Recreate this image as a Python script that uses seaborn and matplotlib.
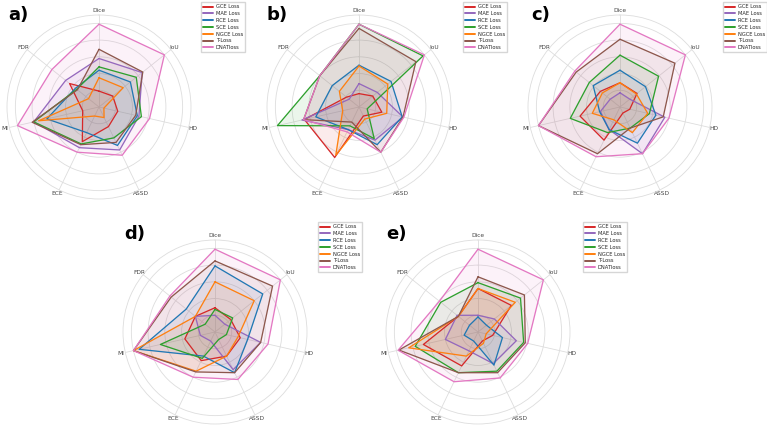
import numpy as np
import matplotlib
matplotlib.use("Agg")
import matplotlib.pyplot as plt
from matplotlib.lines import Line2D
import seaborn as sns

metrics = ["Dice", "IoU", "HD", "ASSD", "ECE", "MI", "FDR"]
losses = ["GCE Loss", "MAE Loss", "RCE Loss", "SCE Loss", "NGCE Loss", "T-Loss", "DNATloss"]

# normalized scores per loss (order of metrics above)
panel_a = [
    [0.19, 0.21, 0.23, 0.26, 0.46, 0.20, 0.45],
    [0.58, 0.66, 0.49, 0.57, 0.54, 0.80, 0.51],
    [0.44, 0.48, 0.47, 0.51, 0.34, 0.64, 0.36],
    [0.48, 0.57, 0.52, 0.41, 0.49, 0.80, 0.34],
    [0.35, 0.37, 0.06, 0.14, 0.12, 0.74, 0.16],
    [0.69, 0.67, 0.45, 0.47, 0.50, 0.82, 0.33],
    [0.99, 1.00, 0.62, 0.64, 0.60, 1.00, 0.72],
]
panel_b = [
    [0.16, 0.21, 0.28, 0.12, 0.67, 0.67, 0.19],
    [0.28, 0.28, 0.54, 0.44, 0.30, 0.70, 0.15],
    [0.50, 0.49, 0.53, 0.50, 0.30, 0.53, 0.41],
    [0.99, 0.98, 0.10, 0.42, 0.25, 1.00, 0.60],
    [0.49, 0.44, 0.34, 0.16, 0.64, 0.20, 0.30],
    [0.94, 0.87, 0.54, 0.60, 0.20, 0.68, 0.60],
    [0.99, 1.00, 0.55, 0.60, 0.33, 0.68, 0.60],
]
panel_c = [
    [0.29, 0.26, 0.12, 0.08, 0.44, 0.49, 0.30],
    [0.17, 0.15, 0.55, 0.62, 0.30, 0.24, 0.15],
    [0.44, 0.39, 0.44, 0.48, 0.30, 0.25, 0.41],
    [0.62, 0.59, 0.36, 0.28, 0.34, 0.61, 0.47],
    [0.29, 0.25, 0.34, 0.34, 0.17, 0.34, 0.27],
    [0.81, 0.84, 0.53, 0.28, 0.62, 1.00, 0.67],
    [0.99, 1.00, 0.60, 0.62, 0.66, 1.00, 0.69],
]
panel_d = [
    [0.29, 0.24, 0.31, 0.32, 0.38, 0.37, 0.30],
    [0.20, 0.15, 0.56, 0.50, 0.12, 0.18, 0.30],
    [0.79, 0.73, 0.40, 0.54, 0.32, 0.93, 0.44],
    [0.27, 0.27, 0.14, 0.10, 0.35, 0.67, 0.15],
    [0.60, 0.60, 0.28, 0.32, 0.52, 1.00, 0.30],
    [0.85, 0.88, 0.56, 0.54, 0.53, 1.00, 0.67],
    [0.99, 1.00, 0.65, 0.63, 0.60, 1.00, 0.69],
]
panel_e = [
    [0.52, 0.51, 0.18, 0.12, 0.45, 0.67, 0.30],
    [0.20, 0.25, 0.47, 0.42, 0.25, 0.40, 0.32],
    [0.18, 0.13, 0.30, 0.44, 0.12, 0.17, 0.13],
    [0.59, 0.65, 0.56, 0.52, 0.54, 0.77, 0.57],
    [0.52, 0.57, 0.10, 0.15, 0.32, 0.85, 0.30],
    [0.66, 0.71, 0.58, 0.54, 0.54, 0.97, 0.30],
    [0.99, 1.00, 0.61, 0.61, 0.66, 0.98, 0.59],
]
panel_tags = ["a)", "b)", "c)", "d)", "e)"]

sns.set_theme(style="whitegrid")
tab = sns.color_palette("tab10")
colors = [tab[3], tab[4], tab[0], tab[2], tab[1], tab[5], tab[6]]

W, H = 767, 426
fig = plt.figure(figsize=(W / 100, H / 100), dpi=100)

R = 92  # px radius of polar axes
layout = [
    # center x, center y (px from top), legend x, legend y, tag x, tag y
    (99, 107, 201, 2, 8, 15),
    (359, 107, 463, 2, 267, 15),
    (620, 107, 723, 2, 531, 15),
    (215, 332, 318, 222, 124, 234),
    (478, 332, 583, 222, 386, 234),
]
panels = [panel_a, panel_b, panel_c, panel_d, panel_e]

angles = np.linspace(0, 2 * np.pi, len(metrics), endpoint=False)
ang_closed = np.concatenate([angles, angles[:1]])

for pdata, (cx, cy, lx, ly, tx, ty), tag in zip(panels, layout, panel_tags):
    ax = fig.add_axes([(cx - R) / W, (H - cy - R) / H, 2 * R / W, 2 * R / H],
                      projection="polar")
    ax.set_theta_offset(np.pi / 2)
    ax.set_theta_direction(-1)
    for vals, name, col in zip(pdata, losses, colors):
        v = np.concatenate([vals, vals[:1]])
        ax.plot(ang_closed, v, color=col, lw=0.9, label=name)
        ax.fill(ang_closed, v, color=col, alpha=0.09)
    ax.set_ylim(0, 1.1)
    ax.set_yticks([0.2, 0.4, 0.6, 0.8, 1.0])
    ax.set_yticklabels([])
    ax.set_xticks(angles)
    ax.set_xticklabels(metrics, fontsize=4.2, color="#444444")
    ax.tick_params(axis="x", pad=-10)
    ax.grid(color="#dddddd", lw=0.6)
    ax.spines["polar"].set_color("#dddddd")
    ax.spines["polar"].set_linewidth(0.6)
    ax.set_facecolor("white")
    handles = [Line2D([], [], color=c, lw=1.4) for c in colors]
    fig.legend(handles, losses, loc="upper left",
               bbox_to_anchor=(lx / W, 1 - ly / H), fontsize=3.7,
               frameon=True, handlelength=1.8, borderpad=0.45,
               handletextpad=0.6, labelspacing=0.35, edgecolor="#cccccc",
               fancybox=False, borderaxespad=0.0)
    fig.text(tx / W, 1 - ty / H, tag, fontsize=13, fontweight="bold",
             va="center", ha="left", color="black")

fig.savefig("out.png", dpi=100)
